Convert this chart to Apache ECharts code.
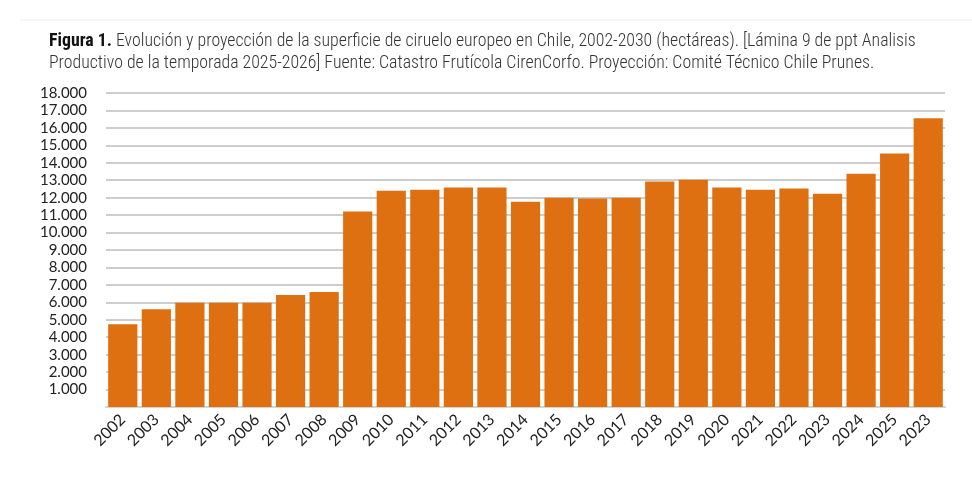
<!DOCTYPE html>
<html>
<head>
<meta charset="utf-8">
<script src="https://cdn.jsdelivr.net/npm/echarts@6/dist/echarts.min.js"></script>
<style>
  html, body { margin: 0; padding: 0; background: #fff; }
  #chart { width: 972px; height: 478px; }
</style>
</head>
<body>
<div id="chart"></div>
<script>
// años (etiquetas tal como aparecen en la lámina)
var years = ['2002', '2003', '2004', '2005', '2006', '2007', '2008', '2009', '2010',
    '2011', '2012', '2013', '2014', '2015', '2016', '2017', '2018', '2019', '2020',
    '2021', '2022', '2023', '2024', '2025', '2023'];

// superficie en hectáreas
var hectareas = [4750, 5600, 5970, 5970, 5970, 6420, 6590, 11200, 12400,
    12460, 12580, 12580, 11770, 12000, 11950, 12000, 12930, 13020, 12580,
    12460, 12520, 12230, 13370, 14530, 16550];

var yMax = 18000;
var yStep = 1000;

var titleBold = 'Figura 1.';
var titleLine1 = ' Evolución y proyección de la superficie de ciruelo europeo en Chile, 2002-2030 (hectáreas). [Lámina 9 de ppt Analisis';
var titleLine2 = 'Productivo de la temporada 2025-2026] Fuente: Catastro Frutícola CirenCorfo. Proyección: Comité Técnico Chile Prunes.';

var titleFont = "'Roboto Condensed', sans-serif";
var axisFont = "'Lato', 'Open Sans', sans-serif";

var chart = echarts.init(document.getElementById('chart'));

var option = {
    backgroundColor: '#fff',
    animation: false,
    title: {
        left: 44,
        top: 26,
        text: '{b|' + titleBold + '}{r|' + titleLine1 + '}\n{r|' + titleLine2 + '}',
        textStyle: {
            fontWeight: 'normal',
            rich: {
                b: {
                    fontFamily: titleFont,
                    fontWeight: 'bold',
                    fontSize: 17.8,
                    color: '#111',
                    lineHeight: 22
                },
                r: {
                    fontFamily: titleFont,
                    fontWeight: 300,
                    fontSize: 17.8,
                    color: '#333',
                    lineHeight: 22
                }
            }
        }
    },
    graphic: [{
        type: 'line',
        shape: { x1: 20, y1: 20, x2: 972, y2: 20 },
        style: { stroke: '#ececec', lineWidth: 1 }
    }],
    grid: {
        left: 106,
        right: 27,
        top: 93,
        bottom: 71
    },
    xAxis: {
        type: 'category',
        data: years,
        axisLine: { show: true, lineStyle: { color: '#d4d4d4', width: 2 } },
        axisTick: { show: false },
        axisLabel: {
            rotate: 45,
            interval: 0,
            margin: 10,
            fontFamily: axisFont,
            fontWeight: 'normal',
            fontSize: 16,
            color: '#222'
        }
    },
    yAxis: {
        type: 'value',
        min: 0,
        max: yMax,
        interval: yStep,
        axisLine: { show: false },
        axisTick: { show: false },
        splitLine: { lineStyle: { color: '#bdbdbd', width: 1.5 } },
        axisLabel: {
            margin: 19,
            fontFamily: axisFont,
            fontWeight: 'normal',
            fontSize: 15,
            color: '#222',
            formatter: function (v) {
                if (v === 0) return '';
                return String(v).replace(/\B(?=(\d{3})+(?!\d))/g, '.');
            }
        }
    },
    series: [{
        type: 'bar',
        data: hectareas,
        barCategoryGap: '13%',
        itemStyle: { color: '#de7011' }
    }]
};

chart.setOption(option);
</script>
</body>
</html>
